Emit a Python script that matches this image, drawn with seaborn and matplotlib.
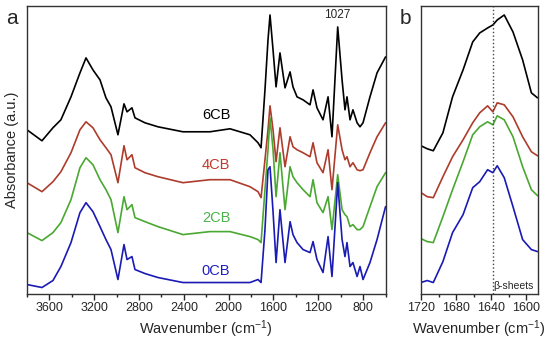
import numpy as np
import pandas as pd
import matplotlib
matplotlib.use('Agg')
import matplotlib.pyplot as plt
import seaborn as sns
from matplotlib.ticker import MultipleLocator

# estilo
sns.set_style('ticks')
plt.rcParams['font.family'] = ['Liberation Sans', 'DejaVu Sans']
plt.rcParams['mathtext.default'] = 'regular'

# ---- dados painel a (FTIR completo) ----
wn_a = [3800, 3666, 3568, 3497, 3407, 3327, 3273, 3211, 3148, 3095, 3050, 2988,
        2934, 2907, 2863, 2836, 2747, 2631, 2408, 2167, 1988, 1810, 1738, 1711,
        1676, 1649, 1631, 1604, 1577, 1542, 1497, 1452, 1426, 1390, 1336, 1274,
        1247, 1212, 1158, 1113, 1078, 1027, 988, 962, 944, 917, 891, 854, 828,
        801, 739, 676, 600]

cb6_a = [1.64, 1.53, 1.66, 1.74, 1.97, 2.21, 2.36, 2.24, 2.14, 1.96, 1.87, 1.59,
         1.90, 1.82, 1.86, 1.76, 1.71, 1.67, 1.62, 1.62, 1.65, 1.59, 1.51, 1.46,
         2.04, 2.54, 2.79, 2.44, 2.07, 2.41, 2.06, 2.22, 2.07, 1.97, 1.94, 1.89,
         2.04, 1.86, 1.74, 1.97, 1.57, 2.67, 2.14, 1.84, 1.97, 1.74, 1.84, 1.71,
         1.67, 1.71, 1.97, 2.21, 2.37]

cb4_a = [1.11, 1.02, 1.12, 1.22, 1.41, 1.64, 1.72, 1.66, 1.54, 1.46, 1.39, 1.11,
         1.48, 1.34, 1.39, 1.26, 1.21, 1.17, 1.11, 1.14, 1.14, 1.07, 1.02, 0.96,
         1.34, 1.64, 1.88, 1.64, 1.32, 1.66, 1.27, 1.57, 1.47, 1.44, 1.41, 1.37,
         1.51, 1.31, 1.21, 1.44, 1.04, 1.69, 1.44, 1.34, 1.37, 1.27, 1.31, 1.24,
         1.23, 1.24, 1.41, 1.57, 1.71]

cb2_a = [0.61, 0.53, 0.61, 0.71, 0.94, 1.26, 1.36, 1.29, 1.14, 1.04, 0.94, 0.61,
         0.97, 0.84, 0.89, 0.76, 0.72, 0.67, 0.59, 0.62, 0.62, 0.57, 0.54, 0.51,
         1.04, 1.44, 1.76, 1.44, 0.97, 1.41, 0.84, 1.27, 1.17, 1.11, 1.04, 0.97,
         1.14, 0.91, 0.81, 0.97, 0.64, 1.19, 0.84, 0.79, 0.77, 0.67, 0.69, 0.64,
         0.64, 0.67, 0.87, 1.07, 1.21]

cb0_a = [0.09, 0.06, 0.13, 0.27, 0.51, 0.81, 0.91, 0.82, 0.67, 0.54, 0.44, 0.14,
         0.49, 0.34, 0.37, 0.24, 0.20, 0.16, 0.11, 0.11, 0.11, 0.11, 0.14, 0.11,
         0.64, 1.24, 1.27, 0.82, 0.31, 0.84, 0.31, 0.72, 0.59, 0.51, 0.44, 0.41,
         0.52, 0.34, 0.21, 0.57, 0.17, 1.11, 0.54, 0.37, 0.51, 0.27, 0.31, 0.17,
         0.27, 0.14, 0.31, 0.54, 0.87]

# ---- dados painel b (amida I) ----
wn_b = [1720, 1713, 1706, 1695, 1684, 1672, 1661, 1653, 1644, 1638, 1633, 1625,
        1615, 1604, 1594, 1587]
cb6_b = [1.48, 1.45, 1.43, 1.61, 1.97, 2.24, 2.52, 2.61, 2.66, 2.69, 2.74, 2.79,
         2.62, 2.34, 2.01, 1.96]
cb4_b = [1.01, 0.97, 0.96, 1.17, 1.37, 1.54, 1.71, 1.81, 1.88, 1.82, 1.91, 1.89,
         1.77, 1.57, 1.42, 1.38]
cb2_b = [0.55, 0.52, 0.51, 0.77, 1.04, 1.32, 1.59, 1.67, 1.72, 1.69, 1.78, 1.74,
         1.57, 1.27, 1.04, 0.98]
cb0_b = [0.11, 0.13, 0.11, 0.32, 0.61, 0.79, 1.06, 1.12, 1.24, 1.21, 1.28, 1.16,
         0.87, 0.54, 0.44, 0.42]

samples = ['6CB', '4CB', '2CB', '0CB']
line_colors = ['#000000', '#ad3c2c', '#4aa832', '#1a1ab4']
text_colors = ['#000000', '#c0392b', '#4cb34c', '#2020c0']
label_y = [1.79, 1.29, 0.76, 0.23]
beta_wn = 1638

fig = plt.figure(figsize=(5.5, 3.43), dpi=100)
ax_a = fig.add_axes([0.049, 0.1443, 0.652, 0.8382])
ax_b = fig.add_axes([0.7655, 0.1443, 0.2118, 0.8382])

for ys, c in zip([cb6_a, cb4_a, cb2_a, cb0_a], line_colors):
    sns.lineplot(x=wn_a, y=ys, ax=ax_a, color=c, lw=1.2, estimator=None)
for ys, c in zip([cb6_b, cb4_b, cb2_b, cb0_b], line_colors):
    sns.lineplot(x=wn_b, y=ys, ax=ax_b, color=c, lw=1.2, estimator=None)

# rótulos das amostras
for s, c, y in zip(samples, text_colors, label_y):
    ax_a.text(2113, y, s, color=c, fontsize=10.5, ha='center', va='center')
ax_a.text(1027, 2.79, '1027', fontsize=8.5, ha='center', va='center')

ax_b.axvline(beta_wn, color='#444444', ls=':', lw=1)
ax_b.text(beta_wn - 1, 0.08, 'β-sheets', fontsize=7.5, ha='left', va='center')

# eixos
ax_a.set_xlim(3800, 600)
ax_b.set_xlim(1720, 1587)
ax_a.xaxis.set_major_locator(MultipleLocator(400))
ax_a.xaxis.set_minor_locator(MultipleLocator(200))
ax_b.xaxis.set_major_locator(MultipleLocator(40))
ax_b.xaxis.set_minor_locator(MultipleLocator(20))
for ax in [ax_a, ax_b]:
    ax.set_ylim(0, 2.88)
    ax.set_yticks([])
    ax.tick_params(axis='x', which='major', direction='out', length=4, width=1,
                   labelsize=9, pad=2)
    ax.tick_params(axis='x', which='minor', direction='out', length=2.5, width=1)
    for sp in ax.spines.values():
        sp.set_linewidth(1)
        sp.set_color('#333333')
    ax.set_xlabel('Wavenumber (cm$^{-1}$)', fontsize=10.5, labelpad=3)
    ax.set_ylabel('')

ax_a.set_ylabel('Absorbance (a.u.)', fontsize=10.5, labelpad=6)
fig.text(0.022, 0.945, 'a', fontsize=15, ha='center', va='center')
fig.text(0.738, 0.945, 'b', fontsize=15, ha='center', va='center')

plt.savefig('out.png', dpi=100)
